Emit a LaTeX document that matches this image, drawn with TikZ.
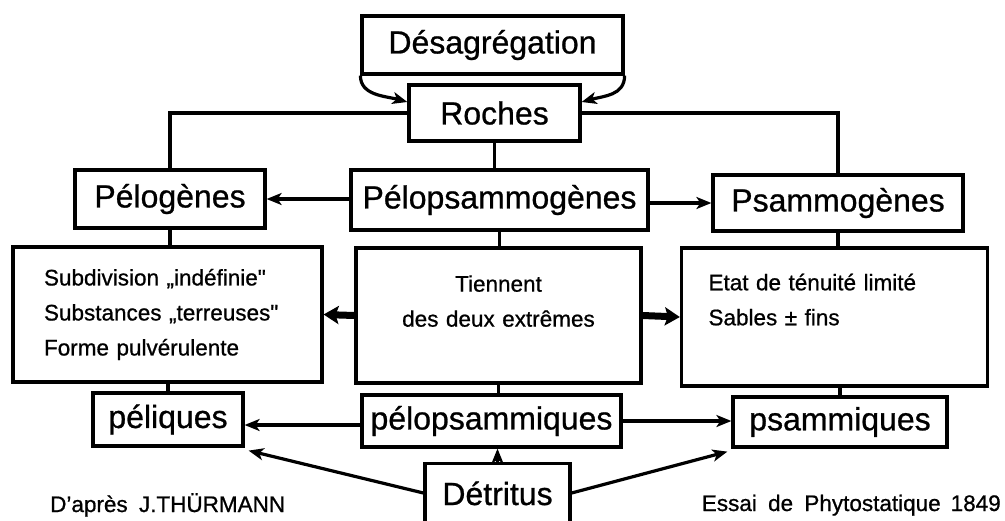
\documentclass[tikz,border=0pt]{standalone}
\usepackage{fontspec}
\setmainfont{Liberation Sans}[FakeBold=0.8]
\newfontfamily\bigfnt[FakeBold=0.8]{Liberation Sans}
\newfontfamily\smallfnt[WordSpace=1.8,FakeBold=0.8]{Liberation Sans}
\usetikzlibrary{arrows.meta}
\begin{document}
\begin{tikzpicture}[x=1pt,y=-1pt,
  box/.style={draw, line width=3.2pt, inner sep=0pt, font=\bigfnt\fontsize{32}{36}\selectfont},
  bigbox/.style={draw, line width=3.2pt, inner ysep=0pt, font=\smallfnt\fontsize{22.5}{35}\selectfont},
  note/.style={inner sep=0pt, font=\smallfnt\fontsize{22.5}{27}\selectfont},
  conn/.style={line width=3.2pt},
  arr/.style={line width=3.2pt, -{Stealth[length=15pt,width=12pt,inset=4pt]}},
  fatarr/.style={line width=7pt, -{Stealth[length=15pt,width=18pt,inset=3pt]}}
]
\useasboundingbox (0,0) rectangle (1005,520);
\clip (0,0) rectangle (1005,520);

% top row
\node[box, minimum width=261, minimum height=58] (desag) at (492.5,45) {Désagrégation};
\node[box, minimum width=171, minimum height=56] (roches) at (494.5,113) {Roches};

% second row
\node[box, minimum width=190, minimum height=58] (pelog) at (170,199) {Pélogènes};
\node[box, minimum width=297, minimum height=60] (pelopsg) at (499.5,200) {Pélopsammogènes};
\node[box, minimum width=250, minimum height=56] (psammog) at (838,203) {Psammogènes};

% description boxes
\node[bigbox, minimum width=309, minimum height=135, inner xsep=31pt, text width=247pt, align=left]
  (lbox) at (167.5,314.5) {Subdivision „indéfinie"\\Substances „terreuses"\\Forme pulvérulente};
\node[bigbox, minimum width=285, minimum height=135, inner xsep=0pt, text width=285pt, align=center]
  (mbox) at (498.5,315.5) {Tiennent\\des deux extrêmes\\[-6pt]\mbox{}};
\node[bigbox, minimum width=306, minimum height=138, inner xsep=27pt, text width=252pt, align=left]
  (rbox) at (834.5,317) {Etat de ténuité limité\\Sables ± fins\\\mbox{}};

% third row
\node[box, minimum width=150, minimum height=53] (peliq) at (168,419.5) {péliques};
\node[box, minimum width=259, minimum height=52] (pelopsm) at (491.5,421) {pélopsammiques};
\node[box, minimum width=214, minimum height=50] (psamm) at (840,422) {psammiques};

% Detritus (box runs off the bottom edge)
\node[box, minimum width=145, minimum height=78, anchor=north] (detr) at (497.5,462) {};
\node[inner sep=0pt, font=\bigfnt\fontsize{32}{36}\selectfont, anchor=base] (detrtxt) at (497.5,505) {Détritus};

% footer notes
\node[note, anchor=base west] (auth) at (50,512) {D’après J.THÜRMANN};
\node[note, anchor=base east] (essai) at (1001,511) {Essai de Phytostatique\hspace{10pt}1849};

% connectors
\draw[arr] (desag.south west) .. controls +(0,20) and +(-22,-6) .. ([yshift=11pt]roches.west);
\draw[arr] (desag.south east) .. controls +(0,20) and +(22,-6) .. ([yshift=11pt]roches.east);
\draw[conn] (roches.west) -| (pelog.north);
\draw[conn] (roches.east) -| (psammog.north);
\draw[conn] (roches.south) -- (roches.south |- pelopsg.north);

\draw[arr] (pelopsg.west |- pelog.east) -- (pelog.east);
\draw[arr] (pelopsg.east |- psammog.west) -- (psammog.west);

\draw[conn] (pelog.south) -- (pelog.south |- lbox.north);
\draw[conn] (pelopsg.south) -- (pelopsg.south |- mbox.north);
\draw[conn] (psammog.south) -- (psammog.south |- rbox.north);

\draw[fatarr] (mbox.west) -- (lbox.east);
\draw[fatarr] (mbox.east) -- (rbox.east -| rbox.west);

\draw[conn] (lbox.south -| peliq.north) -- (peliq.north);
\draw[conn] (mbox.south) -- (mbox.south |- pelopsm.north);
\draw[conn] (rbox.south -| psamm.north) -- (psamm.north);

\draw[arr] ([yshift=-4pt]pelopsm.west) -- ([yshift=-4pt]pelopsm.west -| peliq.east);
\draw[arr] (pelopsm.east) -- (pelopsm.east -| psamm.west);

\draw[arr] (detr.north) -- (detr.north |- pelopsm.south);
\draw[arr] ([yshift=-31pt]detr.north west) -- ([shift={(4pt,-3pt)}]peliq.south east);
\draw[arr] ([yshift=-31pt]detr.north east) -- ([shift={(-4pt,-3pt)}]psamm.south west);
\end{tikzpicture}
\end{document}
